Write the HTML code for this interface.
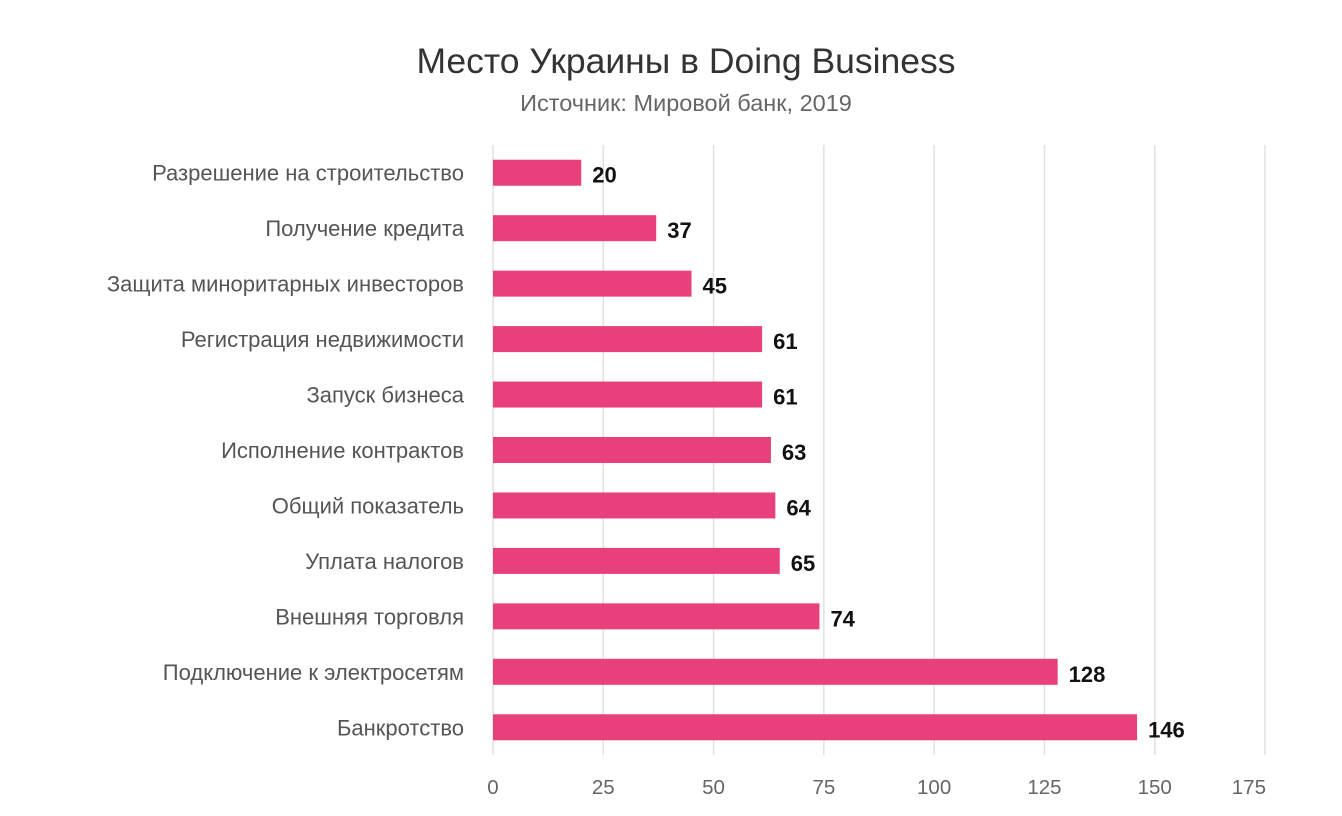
<!DOCTYPE html>
<html><head><meta charset="utf-8"><style>
body{margin:0;background:#fff;}
svg{display:block;font-family:"Liberation Sans",sans-serif;}
</style></head><body>
<svg id="chart" width="1342" height="816">
<text x="686" y="73" text-anchor="middle" font-size="35.5" fill="#333">Место Украины в Doing Business</text>
<text x="686" y="111" text-anchor="middle" font-size="23.5" fill="#666">Источник: Мировой банк, 2019</text>
<g id="grid"></g><g id="bars"></g><g id="labels"></g>
</svg>
<script>
const categories=["Разрешение на строительство","Получение кредита","Защита миноритарных инвесторов","Регистрация недвижимости","Запуск бизнеса","Исполнение контрактов","Общий показатель","Уплата налогов","Внешняя торговля","Подключение к электросетям","Банкротство"];
const values=[20,37,45,61,61,63,64,65,74,128,146];
const ticks=[0,25,50,75,100,125,150,175];
const NS="http://www.w3.org/2000/svg";
const x0=493,x1=1265,xmax=175,yTop=145,yBottom=755;
const xs=v=>x0+(x1-x0)*v/xmax;
const band=(yBottom-yTop)/categories.length;
const yc=i=>yTop+band*(i+0.5);
function mk(t,a,p){const e=document.createElementNS(NS,t);for(const k in a)e.setAttribute(k,a[k]);document.getElementById(p).appendChild(e);return e;}
ticks.forEach((t,k)=>{
  const l=mk('line',{x1:xs(t),x2:xs(t),y1:yTop,y2:yBottom,stroke:'#e0e0e0','stroke-width':1.5},'grid');
  
  
  const last=k===ticks.length-1;
  const tx=mk('text',{x:last?xs(t)+1:xs(t),y:794,'text-anchor':last?'end':'middle','font-size':20.5,fill:'#666'},'grid');
  tx.textContent=t;
  
  
});
categories.forEach((c,i)=>{
  const y=yc(i);
  const r=mk('rect',{x:x0,y:y-13,width:xs(values[i])-x0,height:26,fill:'#e8407a'},'bars');
  
  
  const cl=mk('text',{x:464,y:y+8,'text-anchor':'end','font-size':22,fill:'#555'},'labels');
  cl.textContent=c;
  
  
  const vl=mk('text',{x:xs(values[i])+11,y:y+10,'font-size':22,'font-weight':'bold',fill:'#111'},'labels');
  vl.textContent=values[i];
  
  
});
</script>
</body></html>
